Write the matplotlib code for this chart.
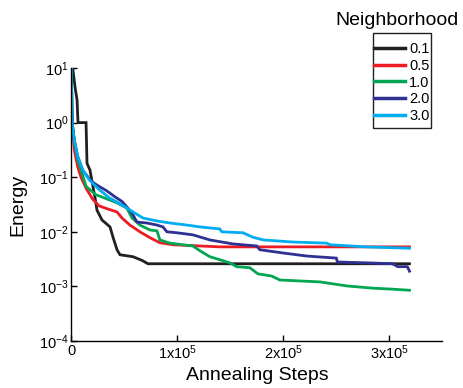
import numpy as np
import matplotlib
matplotlib.use("Agg")
import matplotlib.pyplot as plt
from matplotlib.patches import Rectangle

plt.rcParams['font.family'] = ['Liberation Sans', 'DejaVu Sans']
plt.rcParams['mathtext.fontset'] = 'custom'
plt.rcParams['mathtext.rm'] = 'Liberation Sans'
plt.rcParams['mathtext.it'] = 'Liberation Sans:italic'
plt.rcParams['mathtext.bf'] = 'Liberation Sans:bold'

# annealing steps / energy
x01 = [0, 1300, 3500, 5400, 6300, 13900, 14800, 17600, 20500, 22300, 24200, 28900,
       36500, 39300, 43100, 45900, 58200, 66600, 72300, 319000]
e01 = [10, 10, 4.5, 2.6, 1.0, 1.0, 0.18, 0.135, 0.066, 0.043, 0.025, 0.0165,
       0.0123, 0.008, 0.0047, 0.0038, 0.0035, 0.003, 0.0026, 0.0026]

x05 = [0, 800, 2800, 6000, 9100, 13900, 20000, 26000, 33600, 43100, 47800, 55300,
       64700, 74200, 83600, 95800, 140000, 319000]
e05 = [10, 1.0, 0.32, 0.155, 0.10, 0.063, 0.040, 0.030, 0.0265, 0.0231, 0.0179, 0.0133,
       0.0100, 0.0078, 0.0063, 0.0058, 0.0053, 0.0053]

x10 = [0, 800, 3500, 6000, 10000, 13900, 23000, 33600, 43100, 52500, 57200, 64700,
       74200, 80800, 83600, 93000, 114700, 121300, 130700, 142000, 149600, 156000,
       168400, 176000, 189000, 196700, 234400, 260000, 284000, 303000, 319000]
e10 = [10, 1.0, 0.38, 0.21, 0.12, 0.068, 0.048, 0.040, 0.034, 0.027, 0.018, 0.0133,
       0.0108, 0.0104, 0.0071, 0.0062, 0.0055, 0.0045, 0.0035, 0.0030, 0.0027, 0.0023,
       0.0022, 0.0017, 0.00155, 0.00131, 0.00121, 0.00102, 0.00093, 0.00089, 0.00085]

x20 = [0, 800, 2800, 6000, 10700, 18600, 25000, 33000, 41000, 47800, 52500, 57200, 61900,
       71300, 80800, 86400, 90200, 99600, 114700, 130700, 152400, 175000, 177800,
       199500, 222000, 250000, 251000, 279000, 303000, 308000, 317000, 319000]
e20 = [10, 1.0, 0.48, 0.24, 0.135, 0.085, 0.070, 0.057, 0.044, 0.036, 0.0285, 0.0221, 0.0151,
       0.0145, 0.0133, 0.0123, 0.0100, 0.0096, 0.0088, 0.0071, 0.0060, 0.0055, 0.0047,
       0.0041, 0.0036, 0.0033, 0.0028, 0.0027, 0.0026, 0.0023, 0.0023, 0.0019]

x30 = [0, 700, 2800, 6000, 10700, 17000, 26400, 35800, 48000, 58200, 67600, 80800, 93000,
       109000, 121300, 140000, 142000, 162000, 171000, 181000, 209000, 241000, 244000,
       278000, 319000]
e30 = [10, 1.0, 0.48, 0.24, 0.135, 0.089, 0.059, 0.042, 0.031, 0.0231, 0.0179, 0.0158,
       0.0145, 0.0133, 0.0123, 0.0113, 0.0100, 0.0096, 0.0080, 0.0071, 0.0065, 0.0062,
       0.0058, 0.0053, 0.0050]

labels = ['0.1', '0.5', '1.0', '2.0', '3.0']
colors = ['#231F20', '#ED1C24', '#00A651', '#2E3192', '#00AEEF']

fig = plt.figure(figsize=(4.64, 3.88), dpi=100)
ax = fig.add_axes([0.1537, 0.1211, 0.7996, 0.7036])

for xs, es, lab, c in zip([x01, x05, x10, x20, x30], [e01, e05, e10, e20, e30], labels, colors):
    ax.plot(xs, es, color=c, lw=2, label=lab, solid_joinstyle='miter')

ax.set_yscale('log')
ax.set_xlim(0, 3.5e5)
ax.set_ylim(1e-4, 10)
ax.set_yticks([1e-4, 1e-3, 1e-2, 1e-1, 1, 10])
ax.set_yticklabels([r'$\mathregular{10^{-4}}$', r'$\mathregular{10^{-3}}$', r'$\mathregular{10^{-2}}$',
                    r'$\mathregular{10^{-1}}$', r'$\mathregular{10^{0}}$', r'$\mathregular{10^{1}}$'])
ax.minorticks_off()
ax.set_xticks([0, 1e5, 2e5, 3e5])
ax.set_xticklabels(['0', r'$\mathregular{1x10^{5}}$', r'$\mathregular{2x10^{5}}$', r'$\mathregular{3x10^{5}}$'])
ax.tick_params(direction='in', length=4, width=1, labelsize=10.5, pad=2)
ax.spines['top'].set_visible(False)
ax.spines['right'].set_visible(False)
ax.spines['left'].set_linewidth(1)
ax.spines['bottom'].set_linewidth(1)

ax.set_ylabel('Energy', fontsize=14, labelpad=9)
ax.set_xlabel('Annealing Steps', fontsize=14, labelpad=3)

# legend drawn without frame, box added separately
leg = fig.legend(loc='upper left', bbox_to_anchor=(374 / 464, 1 - 42 / 388), fontsize=10.5,
                 frameon=False, handlelength=2.1, handletextpad=0.3,
                 labelspacing=0.19, borderpad=0, borderaxespad=0)
for h in leg.get_lines():
    h.set_linewidth(2.5)
fig.patches.append(Rectangle((373 / 464, 1 - 128 / 388), 58 / 464, 95 / 388,
                             transform=fig.transFigure, fill=False, edgecolor='#231F20', lw=1))
fig.text(0.855, 0.948, 'Neighborhood', fontsize=14, ha='center', va='center')

fig.savefig('out.png', dpi=100)
